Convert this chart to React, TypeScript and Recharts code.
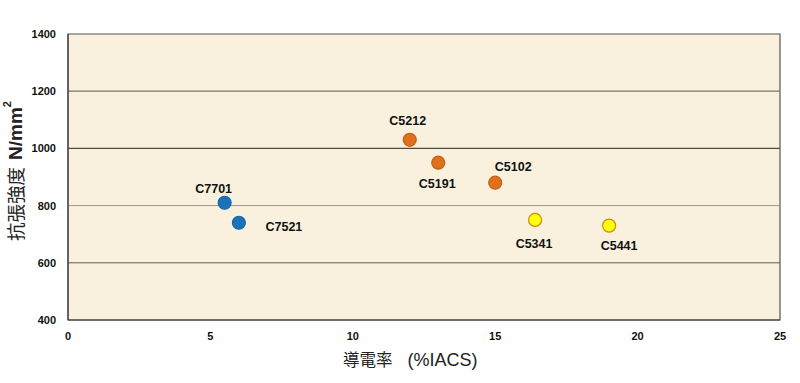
import React from 'react';
import { ScatterChart, Scatter, XAxis, YAxis, CartesianGrid, ReferenceArea, ReferenceLine } from 'recharts';

const blueNames = ['C7701', 'C7521'];
const blueX = [5.5, 6];
const blueY = [810, 740];

const orangeNames = ['C5212', 'C5191', 'C5102'];
const orangeX = [12, 13, 15];
const orangeY = [1030, 950, 880];

const yellowNames = ['C5341', 'C5441'];
const yellowX = [16.4, 19];
const yellowY = [750, 730];

const xTicks = [0, 5, 10, 15, 20, 25];
const yTicks = [400, 600, 800, 1000, 1200, 1400];

const xLabelJa = '導電率';
const xLabelUnit = '(%IACS)';
const yLabelJa = '抗張強度';
const yLabelUnit = 'N/mm';

// label placement (dx, dy from point centre), kept separate from the data
const labelOffsets: Record<string, [number, number]> = {
  C7701: [-11, -10],
  C7521: [45, 8],
  C5212: [-2, -15],
  C5191: [-1, 25],
  C5102: [18, -12],
  C5341: [-1, 28],
  C5441: [10, 24],
};

const build = (names: string[], xs: number[], ys: number[]) =>
  names.map((n, i) => ({ name: n, x: xs[i], y: ys[i] }));

const blueData = build(blueNames, blueX, blueY);
const orangeData = build(orangeNames, orangeX, orangeY);
const yellowData = build(yellowNames, yellowX, yellowY);

const makeShape = (fill: string, stroke: string) => (props: any) => {
  const { cx, cy, payload } = props;
  const off = labelOffsets[payload.name] || [0, -12];
  return (
    <g>
      <circle cx={cx} cy={cy} r={6.5} fill={fill} stroke={stroke} strokeWidth={1.2} />
      <text
        x={cx + off[0]}
        y={cy + off[1]}
        textAnchor="middle"
        fontFamily="'Liberation Sans', Arial, sans-serif"
        fontWeight="bold"
        fontSize={12.5}
        fill="#111"
      >
        {payload.name}
      </text>
    </g>
  );
};

const YLabel = (props: any) => {
  const vb = props.viewBox || {};
  const cx = 15;
  const cy = vb.y + vb.height / 2 - 6;
  return (
    <text
      transform={`translate(${cx},${cy}) rotate(-90)`}
      textAnchor="middle"
      dominantBaseline="central"
      fill="#222"
      fontFamily="'Liberation Sans', 'Noto Sans CJK JP', sans-serif"
    >
      <tspan fontFamily="'Noto Sans CJK JP', sans-serif" fontSize={18.5}>{yLabelJa}</tspan>
      <tspan fontWeight="bold" fontSize={19} dx={7}>{yLabelUnit}</tspan>
      <tspan fontWeight="bold" fontSize={11} dy={-8}>2</tspan>
    </text>
  );
};

const XLabel = (props: any) => {
  const vb = props.viewBox || {};
  return (
    <text
      x={vb.x + vb.width / 2 - 81}
      y={366}
      textAnchor="start"
      fill="#222"
      fontFamily="'Liberation Sans', sans-serif"
    >
      <tspan fontFamily="'Noto Sans CJK JP', sans-serif" fontSize={16.5}>{xLabelJa}</tspan>
      <tspan fontSize={18} dx={15}>{xLabelUnit}</tspan>
    </text>
  );
};

const tickStyle = {
  fontFamily: "'Liberation Sans', Arial, sans-serif",
  fontWeight: 'bold' as const,
  fontSize: 11,
  fill: '#111',
};

export default function App() {
  return (
    <div style={{ position: 'absolute', left: 0, top: 0, width: 800, height: 383, background: '#fff' }}>
      <ScatterChart width={800} height={383} margin={{ top: 34, right: 20, bottom: 33, left: 8 }}>
        <CartesianGrid horizontal={false} vertical={false} fill="#f9f1de" />
        <XAxis
          type="number"
          dataKey="x"
          domain={[0, 25]}
          ticks={xTicks}
          height={30}
          tick={tickStyle}
          tickLine={false}
          tickSize={0}
          tickMargin={12}
          axisLine={{ stroke: '#333' }}
          label={<XLabel />}
        />
        <YAxis
          type="number"
          dataKey="y"
          domain={[400, 1400]}
          ticks={yTicks}
          width={60}
          tick={tickStyle}
          tickLine={false}
          tickSize={0}
          tickMargin={12}
          axisLine={{ stroke: '#333' }}
          label={<YLabel />}
        />
        <ReferenceLine y={1200} stroke="#7a7565" strokeWidth={1.2} />
        <ReferenceLine y={1000} stroke="#4f4b42" strokeWidth={1.3} />
        <ReferenceLine y={800} stroke="#9a9585" strokeWidth={1} />
        <ReferenceLine y={600} stroke="#5e5a50" strokeWidth={1} />
        <ReferenceArea x1={0} x2={25} y1={400} y2={1400} fill="none" stroke="#555" strokeWidth={1.2} />
        <Scatter data={blueData} isAnimationActive={false} shape={makeShape('#1c72b8', '#1664a6')} />
        <Scatter data={orangeData} isAnimationActive={false} shape={makeShape('#e0701c', '#c65f12')} />
        <Scatter data={yellowData} isAnimationActive={false} shape={makeShape('#ffff10', '#d08a00')} />
      </ScatterChart>
    </div>
  );
}
